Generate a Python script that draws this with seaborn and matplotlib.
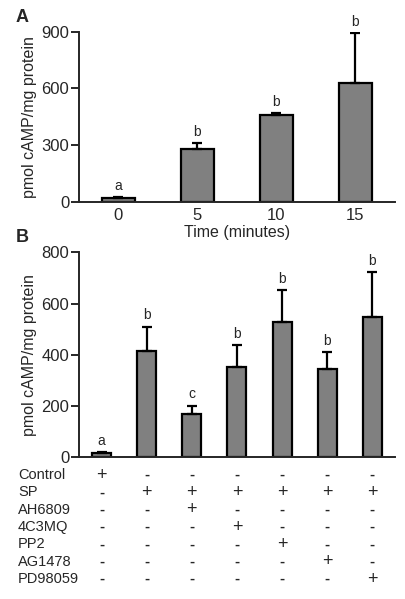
import pandas as pd
import seaborn as sns
import matplotlib.pyplot as plt

# Painel A: curso temporal
tempos = ['0', '5', '10', '15']
camp_tempo = [18, 277, 459, 631]
erro_tempo = [5, 32, 12, 262]
letras_tempo = ['a', 'b', 'b', 'b']

# Painel B: tratamentos
grupos = ['Control', 'SP', 'SP+AH6809', 'SP+4C3MQ', 'SP+PP2', 'SP+AG1478', 'SP+PD98059']
camp_grupo = [15, 416, 169, 354, 528, 346, 547]
erro_grupo = [5, 94, 33, 83, 125, 66, 176]
letras_grupo = ['a', 'b', 'c', 'b', 'b', 'b', 'b']

linhas_tabela = ['Control', 'SP', 'AH6809', '4C3MQ', 'PP2', 'AG1478', 'PD98059']
tabela = [
    ['+', '-', '-', '-', '-', '-', '-'],
    ['-', '+', '+', '+', '+', '+', '+'],
    ['-', '-', '+', '-', '-', '-', '-'],
    ['-', '-', '-', '+', '-', '-', '-'],
    ['-', '-', '-', '-', '+', '-', '-'],
    ['-', '-', '-', '-', '-', '+', '-'],
    ['-', '-', '-', '-', '-', '-', '+'],
]

sns.set_style('ticks')
plt.rcParams['font.family'] = ['Liberation Sans', 'DejaVu Sans']

fig = plt.figure(figsize=(4.05, 5.99), dpi=100)
ax_a = fig.add_axes([0.195, 0.6636, 0.78, 0.2830])
ax_b = fig.add_axes([0.195, 0.2366, 0.78, 0.3422])

cinza = '#808080'


def desenhar(ax, cats, vals, errs, letras, ymax, yticks):
    df = pd.DataFrame({'cat': cats, 'val': vals})
    sns.barplot(data=df, x='cat', y='val', order=cats, color=cinza,
                edgecolor='black', linewidth=1.6, width=0.42,
                saturation=1, errorbar=None, ax=ax)
    xs = list(range(len(cats)))
    ax.errorbar(xs, vals, yerr=[[0] * len(vals), errs], fmt='none',
                ecolor='black', elinewidth=1.6, capsize=3.5, capthick=1.6,
                zorder=1)
    for x, v, e, l in zip(xs, vals, errs, letras):
        ax.annotate(l, (x, v + e), xytext=(0, 3), textcoords='offset points',
                    ha='center', va='bottom', fontsize=10)
    ax.set_ylim(0, ymax)
    ax.set_xlim(-0.5, len(cats) - 0.5)
    ax.set_yticks(yticks)
    ax.tick_params(axis='y', length=6, width=1.4, labelsize=12, pad=1)
    ax.tick_params(axis='x', length=0, labelsize=12, pad=5)
    for s in ['left', 'bottom']:
        ax.spines[s].set_linewidth(1.4)
    sns.despine(ax=ax)
    ax.set_ylabel('pmol cAMP/mg protein', fontsize=11.5, labelpad=3)


desenhar(ax_a, tempos, camp_tempo, erro_tempo, letras_tempo, 900, [0, 300, 600, 900])
ax_a.set_xlabel('Time (minutes)', fontsize=11.5, labelpad=1)

desenhar(ax_b, grupos, camp_grupo, erro_grupo, letras_grupo, 800, [0, 200, 400, 600, 800])
ax_b.set_xticklabels([])
ax_b.set_xlabel('')

# Tabela de tratamentos abaixo do painel B
trans = ax_b.get_xaxis_transform()
for i, (nome, linha) in enumerate(zip(linhas_tabela, tabela)):
    y = -0.087 - i * 0.0845
    ax_b.text(-0.193, y, nome, transform=ax_b.transAxes, ha='left',
              va='center', fontsize=10.5)
    for j, s in enumerate(linha):
        ax_b.text(j, y, s, transform=trans, ha='center', va='center',
                  fontsize=13 if s == '+' else 11,
                  fontweight='bold' if s == '-' else 'normal')

fig.text(0.055, 0.97, 'A', fontsize=13, fontweight='bold', ha='center', va='center')
fig.text(0.055, 0.603, 'B', fontsize=13, fontweight='bold', ha='center', va='center')

fig.savefig('out.png', dpi=100)
